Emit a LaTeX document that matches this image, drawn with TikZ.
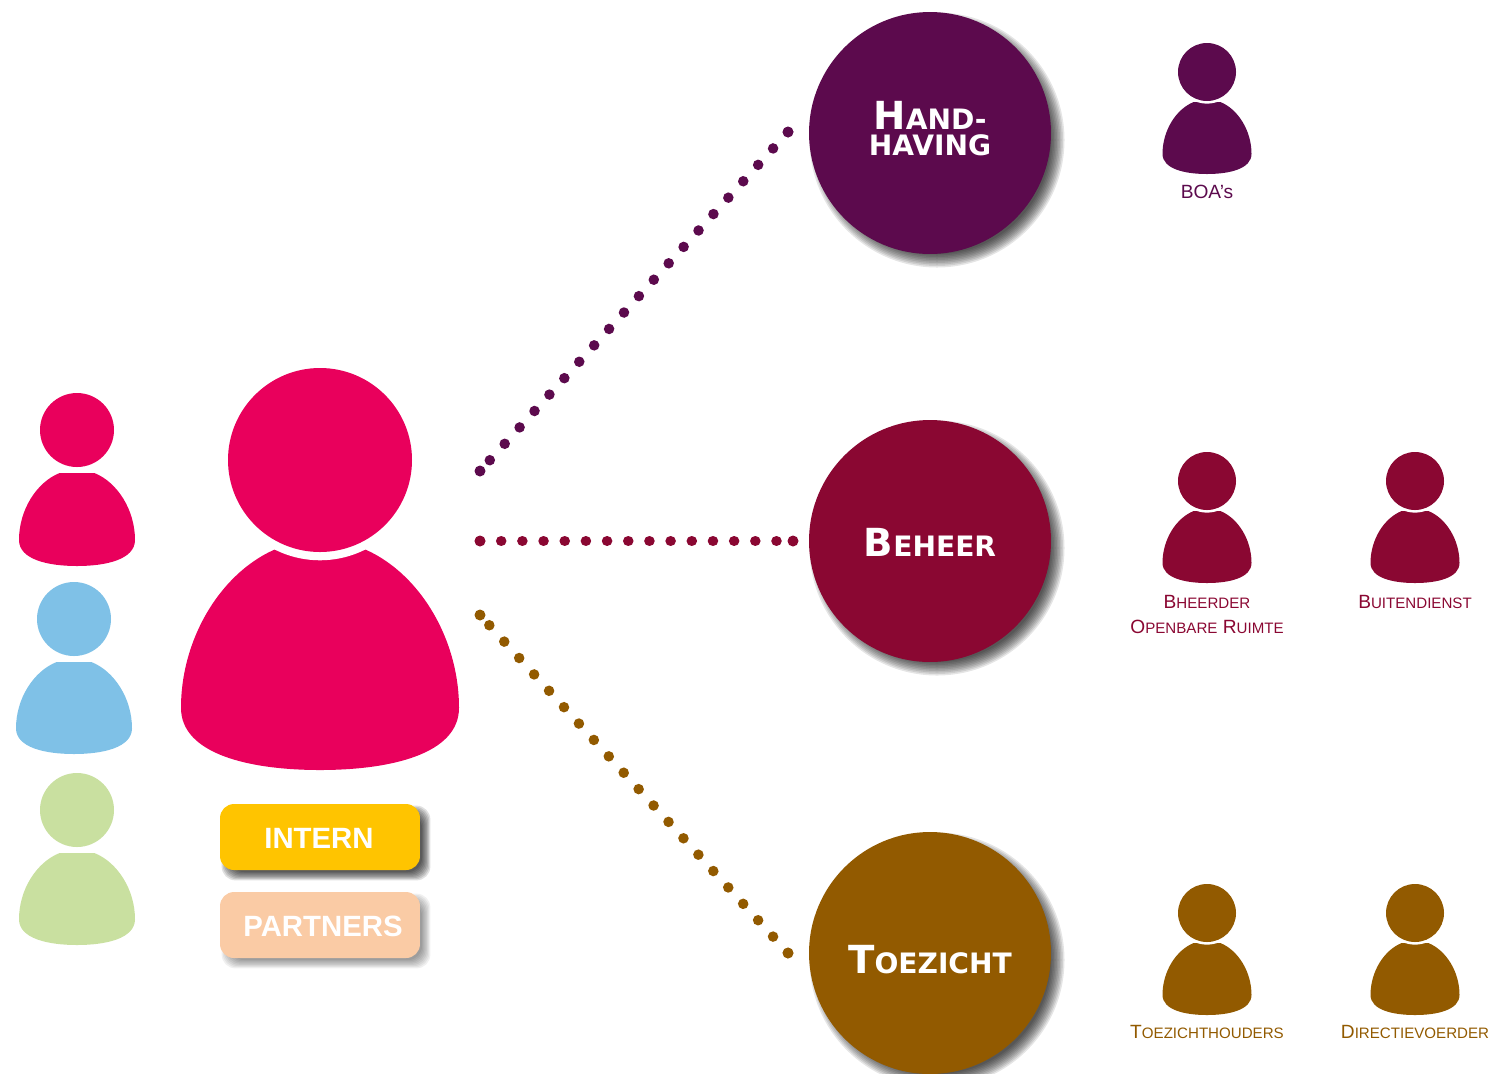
\documentclass[tikz,border=0pt]{standalone}
\usepackage{fontspec}
\usepackage{tikz}
\usetikzlibrary{calc}
\setmainfont{Liberation Sans}
\newfontfamily\heavyfont{DejaVu Sans}

\definecolor{handcol}{HTML}{5C0A4D}
\definecolor{behcol}{HTML}{8A0732}
\definecolor{toezcol}{HTML}{925A00}
\definecolor{pinkcol}{HTML}{E9005C}
\definecolor{bluecol}{HTML}{7FC1E7}
\definecolor{greencol}{HTML}{C9E0A0}
\definecolor{interncol}{HTML}{FFC400}
\definecolor{partcol}{HTML}{FACBA5}

% small capitals by hand, big letter then small letters
\newcommand{\lblsc}[2]{{\fontsize{10.9}{14.2}\selectfont #1}{\fontsize{8.6}{14.2}\selectfont #2}}
\newcommand{\headsc}[2]{{\fontsize{22}{26}\selectfont #1}{\fontsize{16}{26}\selectfont #2}}

% colour, x, y, head radius, body top, body bottom, body half width
\newcommand{\personfig}[7]{%
  \begin{scope}[shift={(#2,#3)}]
    \fill[#1] (-0.3*#7,#5) .. controls (-0.7*#7,#5+0.1*#6-0.1*#5) and (-#7,#5+0.4*#6-0.4*#5) .. (-#7,#5+0.72*#6-0.72*#5)
      .. controls (-#7,#5+0.93*#6-0.93*#5) and (-0.5*#7,#6) .. (0,#6)
      .. controls (0.5*#7,#6) and (#7,#5+0.93*#6-0.93*#5) .. (#7,#5+0.72*#6-0.72*#5)
      .. controls (#7,#5+0.4*#6-0.4*#5) and (0.7*#7,#5+0.1*#6-0.1*#5) .. (0.3*#7,#5) -- cycle;
    \fill[white] (0,0) circle (1.09*#4);
    \fill[#1] (0,0) circle (#4);
  \end{scope}}

% soft shadows, stacked see-through shapes
\newcommand{\circshadow}[2]{%
  \foreach \k in {0,...,9}
    \fill[black,opacity=0.1] (#1+7,#2+7) circle (114+1.5*\k);}
\newcommand{\tagshadow}[3]{%
  \foreach \k in {0,...,7}
    \fill[black,opacity=#3,rounded corners=0.28cm] (#1-100+6-1.2*\k+4,#2-33+6-1.2*\k+4) rectangle (#1+100+6+1.2*\k-4,#2+33+6+1.2*\k-4);}

\tikzset{
  bigcircle/.style={circle,minimum size=4.84cm,inner sep=0pt,fill=#1},
  headtext/.style={text=white,font=\heavyfont\bfseries,align=center,inner sep=0pt},
  lbl/.style={text=#1,font=\fontsize{10.9}{14.2}\selectfont,align=center,inner sep=0pt},
  tagbox/.style={rectangle,rounded corners=0.28cm,minimum width=4cm,minimum height=1.32cm,inner sep=0pt,fill=#1},
  tagtext/.style={text=white,font=\fontsize{16.7}{20}\selectfont\bfseries,inner sep=0pt},
  dotline/.style={draw=#1,line width=0.21cm,line cap=round,dash pattern=on 0.001cm off 0.4425cm},
  dotend/.style={circle,fill=#1,minimum size=0.22cm,inner sep=0pt}
}

\begin{document}
\begin{tikzpicture}[x=0.02cm,y=-0.02cm]
  \useasboundingbox (0,0) rectangle (1504,1073);

  % People on the left
  \personfig{pinkcol}{77}{430}{37}{43}{136}{58}
  \personfig{bluecol}{74}{619}{37}{43}{135}{58}
  \personfig{greencol}{77}{810}{37}{43}{135}{58}
  \personfig{pinkcol}{320}{460}{92}{88}{310}{139}

  % Tags
  \tagshadow{320}{837}{0.12}
  \tagshadow{320}{925}{0.06}
  \node[tagbox=interncol] (intern) at (320,837) {};
  \node[tagbox=partcol] (partners) at (320,925) {};
  \node[tagtext] (interntext) at (319,838) {INTERN};
  \node[tagtext] (partnerstext) at (323,926) {PARTNERS};

  % Big circles
  \circshadow{930}{133}
  \circshadow{930}{541}
  \circshadow{930}{953}
  \node[bigcircle=handcol] (hand) at (930,133) {};
  \node[bigcircle=behcol] (beh) at (930,541) {};
  \node[bigcircle=toezcol] (toez) at (930,953) {};
  \node[headtext] (handtext) at (930,129) {\headsc{H}{AND-}\\[0.1cm]\headsc{}{HAVING}};
  \node[headtext] (behtext) at (930,542) {\headsc{B}{EHEER}};
  \node[headtext] (toeztext) at (930,960) {\headsc{T}{OEZICHT}};

  % Dotted lines
  \node[dotend=handcol] (handstart) at (480,471) {};
  \node[dotend=behcol] (behstart) at (480,541) {};
  \node[dotend=toezcol] (toezstart) at (480,615) {};
  \node[dotend=handcol] (handend) at (788,132) {};
  \node[dotend=behcol] (behend) at (793,541) {};
  \node[dotend=toezcol] (toezend) at (788,953) {};
  \draw[dotline=handcol] (handend.center) -- (handstart.center);
  \draw[dotline=behcol,dash pattern=on 0.001cm off 0.4226cm] (behstart.center) -- (behend.center);
  \draw[dotline=toezcol] (toezend.center) -- (toezstart.center);

  % People on the right
  \personfig{handcol}{1207}{72}{29}{30}{102}{44.5}
  \foreach \px in {1207,1415}{
    \personfig{behcol}{\px}{481}{29}{30}{102}{44.5}
    \personfig{toezcol}{\px}{913}{29}{30}{102}{44.5}
  }

  % Labels
  \node[lbl=handcol] (boa) at (1207,192) {BOA’s};
  \node[lbl=behcol] (bheerder) at (1207,614.5) {\lblsc{B}{HEERDER}\\\lblsc{O}{PENBARE} \lblsc{R}{UIMTE}};
  \node[lbl=behcol] (buiten) at (1415,602) {\lblsc{B}{UITENDIENST}};
  \node[lbl=toezcol] (toezh) at (1207,1032) {\lblsc{T}{OEZICHTHOUDERS}};
  \node[lbl=toezcol] (direct) at (1415,1032) {\lblsc{D}{IRECTIEVOERDER}};
\end{tikzpicture}
\end{document}
